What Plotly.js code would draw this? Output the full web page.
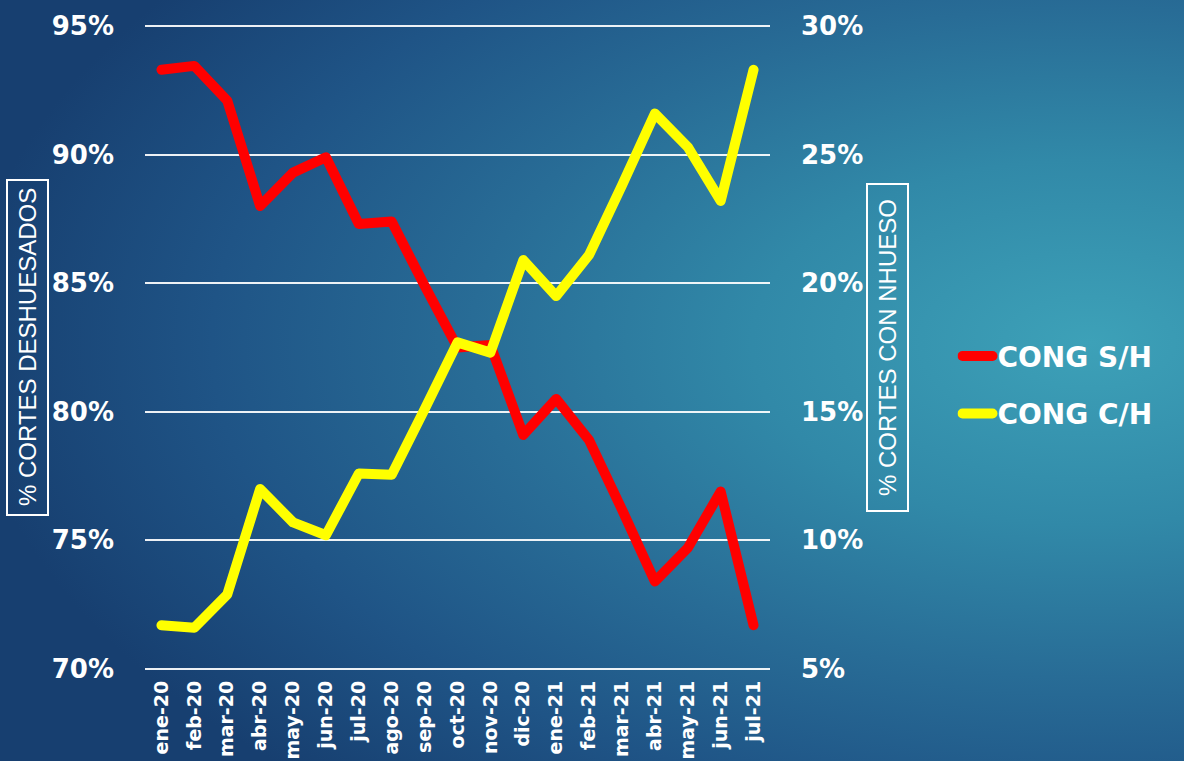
<!DOCTYPE html>
<html>
<head>
<meta charset="utf-8">
<script src="https://cdn.plot.ly/plotly-3.0.1.min.js"></script>
<style>
  html, body { margin:0; padding:0; width:1184px; height:761px; overflow:hidden; }
  body {
    background:
      radial-gradient(ellipse 95% 80% at 92% 45%, #3da1b8 0%, #3189a8 30%, #286c96 55%, #1f5486 78%, #173f70 100%);
  }
  #chart { width:1184px; height:761px; }
  .scatterlayer .js-line, .legend .js-line { stroke-linejoin: round !important; stroke-linecap: round !important; }
</style>
</head>
<body>
<div id="chart"></div>
<script>
const months = ["ene-20","feb-20","mar-20","abr-20","may-20","jun-20","jul-20","ago-20","sep-20","oct-20","nov-20","dic-20","ene-21","feb-21","mar-21","abr-21","may-21","jun-21","jul-21"];
const congSH = [93.3, 93.45, 92.1, 88.0, 89.3, 89.9, 87.3, 87.4, 84.9, 82.5, 82.6, 79.1, 80.5, 78.9, 76.2, 73.4, 74.7, 76.9, 71.7];
const congCH = [6.7, 6.6, 7.9, 12.0, 10.7, 10.2, 12.6, 12.55, 15.1, 17.7, 17.3, 20.9, 19.5, 21.1, 23.8, 26.6, 25.3, 23.2, 28.3];
const leftTicks = [70, 75, 80, 85, 90, 95];
const rightTicks = [5, 10, 15, 20, 25, 30];

const FONT = "DejaVu Sans, Open Sans, sans-serif";
const NARROW = "Liberation Sans Narrow, Arial Narrow, Liberation Sans, Arial, sans-serif";

const traces = [
  { x: months, y: congSH, type: "scatter", mode: "lines", name: "CONG S/H",
    line: { color: "#ff0000", width: 10 }, yaxis: "y", legendgroup: "a", hoverinfo: "skip" },
  { x: months, y: congCH, type: "scatter", mode: "lines", name: "CONG C/H",
    line: { color: "#ffff00", width: 10 }, yaxis: "y2", legendgroup: "b", hoverinfo: "skip" }
];

const layout = {
  width: 1184, height: 761,
  margin: { l: 145, r: 414, t: 25, b: 91, pad: 0 },
  paper_bgcolor: "rgba(0,0,0,0)",
  plot_bgcolor: "rgba(0,0,0,0)",
  font: { family: FONT, color: "#ffffff", weight: "bold" },
  showlegend: true,
  legend: {
    x: 1.30, xanchor: "left", y: 0.525, yanchor: "top",
    font: { family: FONT, size: 28, color: "#ffffff", weight: "bold" },
    bgcolor: "rgba(0,0,0,0)", traceorder: "grouped", tracegroupgap: 18,
    itemwidth: 30
  },
  xaxis: {
    type: "category", range: [-0.5, months.length - 0.5], tickangle: -90,
    showgrid: false, showline: false, zeroline: false,
    ticks: "", ticklabelstandoff: 6,
    tickfont: { family: FONT, size: 19, color: "#ffffff", weight: "bold" },
    fixedrange: true
  },
  yaxis: {
    range: [69.96, 95.04], tickvals: leftTicks, ticktext: leftTicks.map(v => v + "%"),
    showgrid: true, gridcolor: "rgba(255,255,255,0.92)", gridwidth: 2,
    zeroline: false, showline: false, ticks: "", ticklabelstandoff: 30,
    tickfont: { family: FONT, size: 26, color: "#ffffff", weight: "bold" },
    fixedrange: true
  },
  yaxis2: {
    range: [4.96, 30.04], overlaying: "y", side: "right", tickvals: rightTicks, ticktext: rightTicks.map(v => v + "%"),
    showgrid: false, zeroline: false, showline: false, ticks: "", ticklabelstandoff: 30,
    tickfont: { family: FONT, size: 26, color: "#ffffff", weight: "bold" },
    fixedrange: true
  },
  shapes: [
    { type: "rect", xref: "paper", yref: "paper", x0: -0.2208, x1: -0.1552, y0: 0.2403, y1: 0.7597,
      line: { color: "#ffffff", width: 2 }, fillcolor: "rgba(0,0,0,0)" },
    { type: "rect", xref: "paper", yref: "paper", x0: 1.1552, x1: 1.2208, y0: 0.2465, y1: 0.7535,
      line: { color: "#ffffff", width: 2 }, fillcolor: "rgba(0,0,0,0)" }
  ],
  annotations: [
    { xref: "paper", yref: "paper", x: -0.188, y: 0.5, text: "% CORTES DESHUESADOS", textangle: -90,
      showarrow: false, xanchor: "center", yanchor: "middle",
      font: { family: NARROW, size: 24, color: "#ffffff", weight: "normal" } },
    { xref: "paper", yref: "paper", x: 1.188, y: 0.5, text: "% CORTES CON NHUESO", textangle: -90,
      showarrow: false, xanchor: "center", yanchor: "middle",
      font: { family: NARROW, size: 24, color: "#ffffff", weight: "normal" } }
  ]
};

Plotly.newPlot("chart", traces, layout, { displayModeBar: false, staticPlot: true });
</script>
</body>
</html>
